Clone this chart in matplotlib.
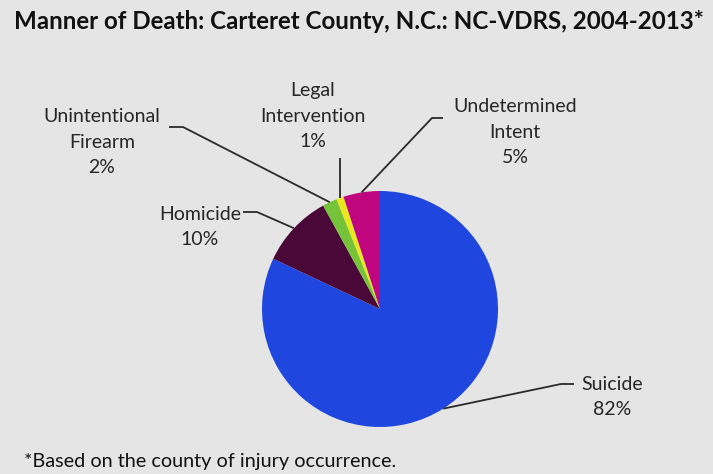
import matplotlib
matplotlib.use("Agg")
import matplotlib.pyplot as plt
import numpy as np

# ---- data ----
categories = ["Suicide", "Undetermined\nIntent", "Legal\nIntervention",
              "Unintentional\nFirearm", "Homicide"]
values = [82, 5, 1, 2, 10]
pct_labels = ["82%", "5%", "1%", "2%", "10%"]
colors = ["#1f47e0", "#c0067f", "#e9e81e", "#76c33a", "#4a0838"]
# drawing order clockwise from 12 o'clock: Suicide, Homicide, Unint., Legal, Undet.
order = [0, 4, 3, 2, 1]

title = "Manner of Death: Carteret County, N.C.: NC-VDRS, 2004-2013*"
footnote = "*Based on the county of injury occurrence."

W, H = 713, 474
BG = "#e5e5e5"
FONT = "Lato"

fig = plt.figure(figsize=(W / 100, H / 100), dpi=100, facecolor=BG)
ax = fig.add_axes([0, 0, 1, 1])
ax.set_facecolor(BG)

cx, cy, r = 380, H - 309, 118
vals = [values[i] for i in order]
cols = [colors[i] for i in order]
wedges, _ = ax.pie(vals, colors=cols, startangle=90, counterclock=False,
                   center=(cx, cy), radius=r, frame=True,
                   wedgeprops=dict(linewidth=0))
ax.set_xlim(0, W)
ax.set_ylim(0, H)
ax.set_aspect("equal")
ax.axis("off")

# label layout: text centre (x, y top-down px), elbow points (top-down px)
layout = {
    0: dict(xy=(612, 397), elbow=[(574, 384), (561, 384)]),
    4: dict(xy=(200, 227), elbow=[(243, 212), (257, 212)]),
    3: dict(xy=(102, 142), elbow=[(169, 127), (183, 127)]),
    2: dict(xy=(313, 116), elbow=[(340, 158)]),
    1: dict(xy=(515, 132), elbow=[(443, 118), (432, 118)]),
}

for w, idx in zip(wedges, order):
    ang = np.deg2rad((w.theta1 + w.theta2) / 2)
    px = cx + r * np.cos(ang)
    py = cy + r * np.sin(ang)
    lay = layout[idx]
    pts = [(x, H - y) for x, y in lay["elbow"]] + [(px, py)]
    xs, ys = zip(*pts)
    ax.plot(xs, ys, color="#2a2a2a", lw=1.3, solid_capstyle="butt")
    tx, ty = lay["xy"]
    ax.text(tx, H - ty, categories[idx] + "\n" + pct_labels[idx],
            ha="center", va="center", fontsize=14, family=FONT,
            color="#262626", linespacing=1.6)

ax.text(14, H - 21, title, ha="left", va="center", fontsize=17.4,
        fontweight="bold", family=FONT, color="#111111")
ax.text(24, H - 461, footnote, ha="left", va="center", fontsize=14.3,
        family=FONT, color="#111111")

fig.savefig("out.png", dpi=100, facecolor=BG)
